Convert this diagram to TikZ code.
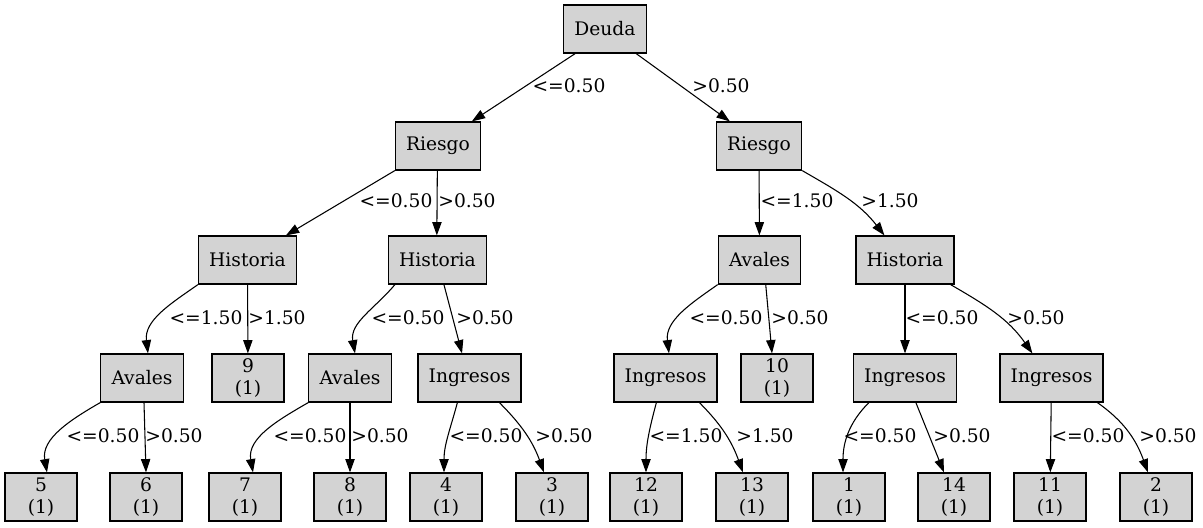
\documentclass[tikz,border=0pt]{standalone}
\usepackage{fontspec}
\setmainfont{DejaVu Serif}
\usetikzlibrary{arrows.meta}
\definecolor{treegray}{HTML}{D3D3D3}
\tikzset{
  split/.style={rectangle, draw=black, line width=0.9pt, fill=treegray, minimum width=54pt, minimum height=36pt, inner xsep=8pt, font=\fontsize{14}{16}\selectfont},
  leaf/.style={split, align=center, inner ysep=2.5pt},
  edge/.style={line width=0.8pt, -{Triangle[length=10pt,width=7pt]}},
  lbl/.style={font=\fontsize{14}{16}\selectfont, inner sep=0pt}
}

\begin{document}
\begin{tikzpicture}[x=0.75pt, y=-0.75pt]
  \useasboundingbox (0,0) rectangle (1203,528);
  % Splits
  \node (dd) [split] at (605,29) {Deuda};
  \node (rl) [split] at (438,146) {Riesgo};
  \node (rr) [split] at (759,146) {Riesgo};
  \node (hl) [split] at (247.5,260) {Historia};
  \node (hm) [split] at (437.5,260) {Historia};
  \node (ar) [split] at (759.5,260) {Avales};
  \node (hr) [split] at (905,260) {Historia};
  \node (avl) [split] at (142,378) {Avales};
  \node (avm) [split] at (350,378) {Avales};
  \node (ina) [split] at (469.5,378) {Ingresos};
  \node (inb) [split] at (665.5,378) {Ingresos};
  \node (inc) [split] at (905,378) {Ingresos};
  \node (ind) [split] at (1051.5,378) {Ingresos};

  % Leaves
  \node (l9) [leaf] at (248,378) {9\\(1)};
  \node (l10) [leaf] at (777,378) {10\\(1)};
  \node (l5) [leaf] at (41,497) {5\\(1)};
  \node (l6) [leaf] at (146,497) {6\\(1)};
  \node (l7) [leaf] at (245,497) {7\\(1)};
  \node (l8) [leaf] at (350,497) {8\\(1)};
  \node (l4) [leaf] at (446,497) {4\\(1)};
  \node (l3) [leaf] at (552,497) {3\\(1)};
  \node (l12) [leaf] at (646,497) {12\\(1)};
  \node (l13) [leaf] at (752,497) {13\\(1)};
  \node (l1) [leaf] at (849,497) {1\\(1)};
  \node (l14) [leaf] at (954,497) {14\\(1)};
  \node (l11) [leaf] at (1050,497) {11\\(1)};
  \node (l2) [leaf] at (1156,497) {2\\(1)};

  % Edges
  \draw [edge] ([xshift=9pt]dd.south west) -- ([xshift=57.75pt]rl.north west) node (e1) [lbl, at={(569,86)}] {<=0.50};
  \draw [edge] ([xshift=54.75pt]dd.south west) -- ([xshift=10.5pt]rr.north west) node (e2) [lbl, at={(721,86)}] {>0.50};
  \draw [edge] (rl.south west) -- ([xshift=66pt]hl.north west) node (e3) [lbl, at={(396,201)}] {<=0.50};
  \draw [edge] ([xshift=-0.5pt]rl.south) -- ([xshift=-0.5pt]hm.north) node (e4) [lbl, at={(467,201)}] {>0.50};
  \draw [edge] (rr) -- (ar) node (e5) [lbl, at={(797,201)}] {<=1.50};
  \draw [edge] (rr.south east) to[out=-30, in=128] ([xshift=21.75pt]hr.north west) node (e6) [lbl, at={(890,201)}] {>1.50};
  \draw [edge] (hl.south west) to[out=-145, in=97] ([xshift=4.5pt]avl.north) node (e7) [lbl, at={(206,318)}] {<=1.50};
  \draw [edge] (hl) -- (l9) node (e8) [lbl, at={(277,318)}] {>1.50};
  \draw [edge] ([xshift=5.25pt]hm.south west) to[out=-130, in=100] ([xshift=3.75pt]avm.north) node (e9) [lbl, at={(408,318)}] {<=0.50};
  \draw [edge] ([xshift=42pt]hm.south west) -- ([xshift=-5.6pt]ina.north) node (e10) [lbl, at={(485,318)}] {>0.50};
  \draw [edge] (ar.south west) to[out=-145, in=97] ([xshift=2.6pt]inb.north) node (e11) [lbl, at={(726,318)}] {<=0.50};
  \draw [edge] ([xshift=36pt]ar.south west) -- ([xshift=-3.75pt]l10.north) node (e12) [lbl, at={(800,318)}] {>0.50};
  \draw [edge] (hr) -- (inc) node (e13) [lbl, at={(942,318)}] {<=0.50};
  \draw [edge] ([xshift=-3pt]hr.south east) to[out=-30, in=125] ([xshift=24.75pt]ind.north west) node (e14) [lbl, at={(1036,318)}] {>0.50};
  \draw [edge] (avl.south west) to[out=-150, in=100] ([xshift=4.5pt]l5.north) node (e15) [lbl, at={(103,436)}] {<=0.50};
  \draw [edge] ([xshift=1.5pt]avl.south) -- (l6.north) node (e16) [lbl, at={(174,436)}] {>0.50};
  \draw [edge] (avm.south west) to[out=-150, in=100] ([xshift=6pt]l7.north) node (e17) [lbl, at={(310,436)}] {<=0.50};
  \draw [edge] (avm) -- (l8) node (e18) [lbl, at={(380,436)}] {>0.50};
  \draw [edge] ([xshift=30pt]ina.south west) to[out=-105, in=90] ([xshift=-1.5pt]l4.north) node (e19) [lbl, at={(486,436)}] {<=0.50};
  \draw [edge] ([xshift=61.5pt]ina.south west) to[out=-45, in=110] ([xshift=-6pt]l3.north) node (e20) [lbl, at={(564,436)}] {>0.50};
  \draw [edge] ([xshift=32.25pt]inb.south west) to[out=-105, in=90] (l12.north) node (e21) [lbl, at={(686,436)}] {<=1.50};
  \draw [edge] ([xshift=64.5pt]inb.south west) to[out=-45, in=110] ([xshift=-6.75pt]l13.north) node (e22) [lbl, at={(765,436)}] {>1.50};
  \draw [edge] ([xshift=12pt]inc.south west) to[out=-135, in=90] ([xshift=-4.5pt]l1.north) node (e23) [lbl, at={(880,436)}] {<=0.50};
  \draw [edge] ([xshift=47.25pt]inc.south west) -- ([xshift=-7.5pt]l14.north) node (e24) [lbl, at={(962,436)}] {>0.50};
  \draw [edge] (ind) -- (l11) node (e25) [lbl, at={(1088,436)}] {<=0.50};
  \draw [edge] ([xshift=73.5pt]ind.south west) to[out=-35, in=110] ([xshift=-6pt]l2.north) node (e26) [lbl, at={(1168,436)}] {>0.50};
\end{tikzpicture}
\end{document}
